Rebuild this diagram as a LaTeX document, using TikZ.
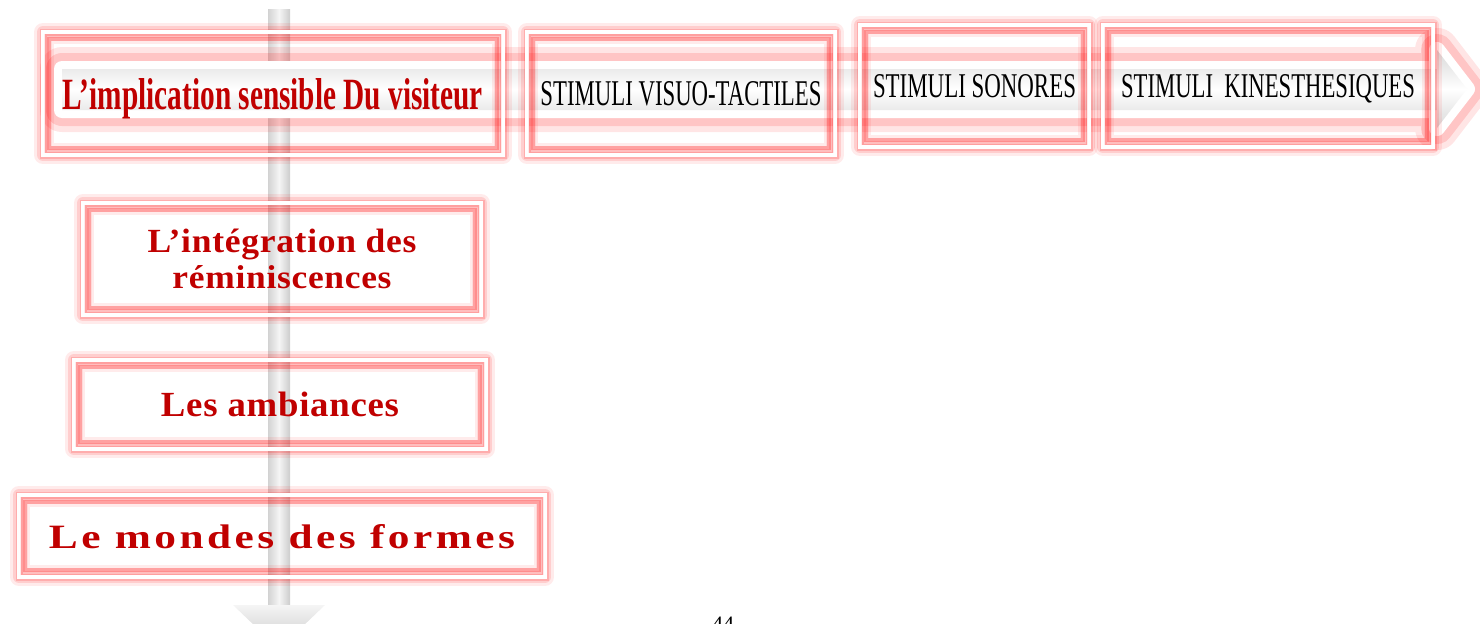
\documentclass[tikz,border=0pt]{standalone}
\usepackage{fontspec}
\setmainfont{Liberation Serif}
\newfontfamily\espace[LetterSpace=2]{Liberation Serif}
\usepackage{graphicx}
\usetikzlibrary{positioning}
\definecolor{rougetitre}{HTML}{C00000}
\newcommand{\ajuste}[3]{\resizebox{#1}{#2}{#3}}

\begin{document}
\begin{tikzpicture}[x=0.5pt,y=-0.5pt]
\tikzset{halo/.style={preaction={draw=red,opacity=.08,line width=9pt,line join=round},
  preaction={draw=red,opacity=.12,line width=6pt,line join=round},
  preaction={draw=red,opacity=.16,line width=3.5pt}},
  boite/.style={halo,draw=white,line width=1.75pt,inner sep=0pt,outer sep=0pt,text depth=0pt,align=center},
  gauche/.style={boite,text=rougetitre},
  cadreint/.style={draw=red,opacity=.26,line width=1.75pt,preaction={draw=red,opacity=.08,line width=5pt}}}
\useasboundingbox (0,0) rectangle (1480,623);
% fleche verticale
\coordinate (haut) at (279,9);
\coordinate (bas) at (279,605);
\shade[left color=gray!35,right color=gray!40,middle color=gray!8] ([xshift=-5.5pt]haut) rectangle ([xshift=5.5pt]bas);
\shade[top color=gray!8,bottom color=gray!45] ([xshift=-23pt]bas) -- ([xshift=23pt]bas) -- ([yshift=-22pt]bas) -- cycle;
% fleche horizontale
\shade[preaction={draw=red,opacity=.1,line width=22pt,line join=round},
  preaction={draw=red,opacity=.14,line width=16pt,line join=round},
  preaction={draw=white,line width=8pt,line join=round},
  top color=gray!30,bottom color=gray!30,middle color=white]
  (62,69) -- (1437,69) -- (1437,50) -- (1467,89) -- (1437,128) -- (1437,110) -- (62,110) -- cycle;
% boites du haut
\node[boite,text=rougetitre,font=\bfseries,minimum width=230pt,minimum height=61.5pt] (implication) at (273,93.5)
  {\ajuste{210pt}{15.5pt}{L’implication sensible Du visiteur}};
\node[boite,minimum width=154pt,minimum height=61.5pt] (visuo) at (681,93.5)
  {\ajuste{140.5pt}{12pt}{STIMULI VISUO-TACTILES}};
\node[boite,minimum width=114.5pt,minimum height=61pt] (sonores) at (974.5,86)
  {\ajuste{101.5pt}{11.5pt}{STIMULI SONORES}};
\node[boite,minimum width=165pt,minimum height=61pt] (kines) at (1268,86)
  {\ajuste{147pt}{11.5pt}{STIMULI~~KINESTHESIQUES}};
% boites de gauche
\node[gauche,font={\espace\bfseries\fontsize{12}{18}\selectfont},minimum width=199pt,minimum height=56pt] (reminiscences) at (282,259)
  {\ajuste{134.5pt}{11.75pt}{L’intégration des}\\\ajuste{109.5pt}{11.5pt}{réminiscences}};
\node[gauche,font=\espace\bfseries,minimum width=206pt,minimum height=44.5pt] (ambiances) at (280,404.5)
  {\ajuste{119pt}{12.25pt}{Les ambiances}};
\node[gauche,font={\espace\bfseries\addfontfeature{LetterSpace=8}},minimum width=263pt,minimum height=41pt] (formes) at (282,536)
  {\ajuste{233pt}{12pt}{Le mondes des formes}};
\foreach \n in {implication,visuo,sonores,kines,reminiscences,ambiances,formes}
  \draw[cadreint] ([shift={(3pt,-3.5pt)}]\n.north west) rectangle ([shift={(-3pt,3.5pt)}]\n.south east);
\node[inner sep=0pt,anchor=north,font=\fontsize{11}{11}\selectfont] (page) at (723,617) {44};
\end{tikzpicture}
\end{document}
